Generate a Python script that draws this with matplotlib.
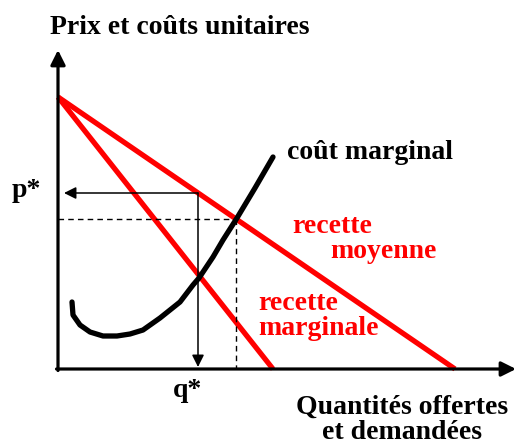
import matplotlib
matplotlib.use("Agg")
import numpy as np
from matplotlib import pyplot as plt

# quantities (q) and unit prices (p), origin at the corner of the two axes
demand_p0 = 272        # price where demand meets the price axis
ar_q0 = 397            # average revenue reaches zero
mr_q0 = 215            # marginal revenue reaches zero
q_star, p_star = 140, 176      # monopoly output and price
q_c, p_c = 178, 150            # where marginal cost crosses average revenue
mc_q = [14, 15, 22, 32, 45, 59, 72, 85, 102, 122, 135, 141, 155, 165, 179, 197, 215]
mc_p = [67, 54, 44, 37, 33, 33, 35, 39, 51, 67, 84, 91, 112, 129, 151, 181, 212]
q_max, p_max = 458, 319        # arrow tips of the axes

red = '#ff0000'
serif = ['Liberation Serif', 'DejaVu Serif']

fig = plt.figure(figsize=(5.16, 4.45), dpi=100)
ax = fig.add_axes([0, 0, 1, 1])
ax.set_xlim(-58, 458)
ax.set_ylim(-76, 369)
ax.axis('off')

# axes with arrow heads
ax.annotate('', xy=(0, p_max), xytext=(0, -1.5),
            arrowprops=dict(arrowstyle='-|>', lw=2.3, color='black',
                            mutation_scale=22, shrinkA=0, shrinkB=0))
ax.annotate('', xy=(q_max, 0), xytext=(-1.5, 0),
            arrowprops=dict(arrowstyle='-|>', lw=2.3, color='black',
                            mutation_scale=22, shrinkA=0, shrinkB=0))

# revenue lines
ax.plot([0, ar_q0], [demand_p0, 0], color=red, lw=3.8, solid_capstyle='butt')
ax.plot([0, mr_q0], [demand_p0, 0], color=red, lw=3.8, solid_capstyle='butt')

# marginal cost
ax.plot(mc_q, mc_p, color='black', lw=3.8, solid_capstyle='round',
        solid_joinstyle='round')

# dashed guides
ax.plot([0, q_c], [p_c, p_c], color='black', lw=1, ls=(0, (4, 3)))
ax.plot([q_c, q_c], [p_c, 0], color='black', lw=1, ls=(0, (4, 3)))

# monopoly price / quantity arrows
ax.annotate('', xy=(6, p_star), xytext=(q_star, p_star),
            arrowprops=dict(arrowstyle='-|>', lw=1.1, color='black',
                            mutation_scale=18, shrinkA=0, shrinkB=0))
ax.annotate('', xy=(q_star, 2), xytext=(q_star, p_star),
            arrowprops=dict(arrowstyle='-|>', lw=1.1, color='black',
                            mutation_scale=18, shrinkA=0, shrinkB=0))

tk = dict(family=serif, fontweight='bold', fontsize=20, va='baseline')
ax.text(-8, 335, 'Prix et coûts unitaires', ha='left', **tk)
ax.text(-46, 172, 'p*', ha='left', **tk)
ax.text(q_star - 10, -28, 'q*', ha='center', **tk)
ax.text(344, -45, 'Quantités offertes', ha='center', **tk)
ax.text(344, -70, 'et demandées', ha='center', **tk)
ax.text(229, 210, 'coût marginal', ha='left', **tk)
ax.text(234, 136, 'recette', color=red, ha='left', **tk)
ax.text(272, 111, 'moyenne', color=red, ha='left', **tk)
ax.text(200, 59, 'recette', color=red, ha='left', **tk)
ax.text(200, 34, 'marginale', color=red, ha='left', **tk)

fig.savefig('out.png', dpi=100)
